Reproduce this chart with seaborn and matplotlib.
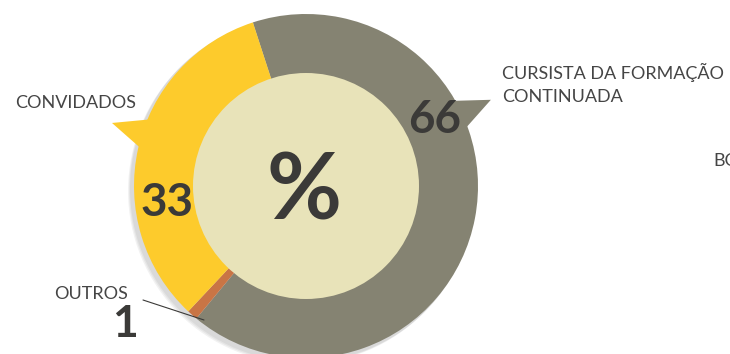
import numpy as np
import matplotlib
matplotlib.use("Agg")
import matplotlib.pyplot as plt
from matplotlib.patches import Circle, Polygon
import seaborn as sns

# Data
categories = ["CURSISTA DA FORMAÇÃO\nCONTINUADA", "OUTROS", "CONVIDADOS"]
values = [66, 1, 33]
value_labels = ["66", "1", "33"]
colors = ["#858372", "#c97545", "#fdcb2c"]

INNER_COLOR = "#e8e3b9"
TEXT_COLOR = "#3b3a38"

sns.set_theme(style="white")
plt.rcParams["font.family"] = ["Lato", "DejaVu Sans"]

fig = plt.figure(figsize=(7.3, 3.54), dpi=100, facecolor="white")
ax = fig.add_axes([0, 0, 1, 1])

cx, cy = 306, 168
r_out, r_in = 172, 112

# soft shadow under the ring
for k in range(3):
    ax.add_patch(Circle((cx - 3 - k, cy - 3 - k), r_out + 1, color="black", alpha=0.05, lw=0, zorder=0))

wedges, _ = ax.pie(
    values,
    colors=colors,
    startangle=108,
    counterclock=False,
    radius=r_out,
    center=(cx, cy),
    wedgeprops=dict(width=r_out - r_in, linewidth=0),
    frame=True,
)
for w in wedges:
    w.set_zorder(2)
ax.set_xlim(0, 730)
ax.set_ylim(0, 354)
ax.set_aspect("equal")
ax.axis("off")

ax.add_patch(Circle((cx, cy), r_in + 1, color=INNER_COLOR, lw=0, zorder=3))


def pointer(angle, color, half=6, tip_r=204, base_r=165):
    pts = []
    for a, r in [(angle - half, base_r), (angle, tip_r), (angle + half, base_r)]:
        t = np.deg2rad(a)
        pts.append((cx + r * np.cos(t), cy + r * np.sin(t)))
    ax.add_patch(Polygon(pts, closed=True, color=color, lw=0, zorder=1.5))


pointer(25, colors[0])
pointer(162, colors[2])

# category labels
label_kw = dict(fontsize=13, color="#454545", fontweight="normal")
ax.text(502, 291, categories[0], ha="left", va="top", linespacing=1.55, **label_kw)
ax.text(136, 251, categories[2], ha="right", va="center", **label_kw)
ax.text(128, 60, categories[1], ha="right", va="center", **label_kw)
ax.text(713, 193, "BO", ha="left", va="center", **label_kw)

# values
value_kw = dict(fontweight="bold", color=TEXT_COLOR, ha="center", va="center", zorder=5)
ax.text(435, 234, value_labels[0], fontsize=33, **value_kw)
ax.text(167, 151, value_labels[2], fontsize=33, **value_kw)
ax.text(125, 30, value_labels[1], fontsize=32, **value_kw)
ax.text(304, 160, "%", fontsize=66, **value_kw)

# leader line for OUTROS
ax.plot([143, 204], [54, 34], color=TEXT_COLOR, lw=0.8, zorder=5)

fig.savefig("out.png", dpi=100, facecolor="white")
